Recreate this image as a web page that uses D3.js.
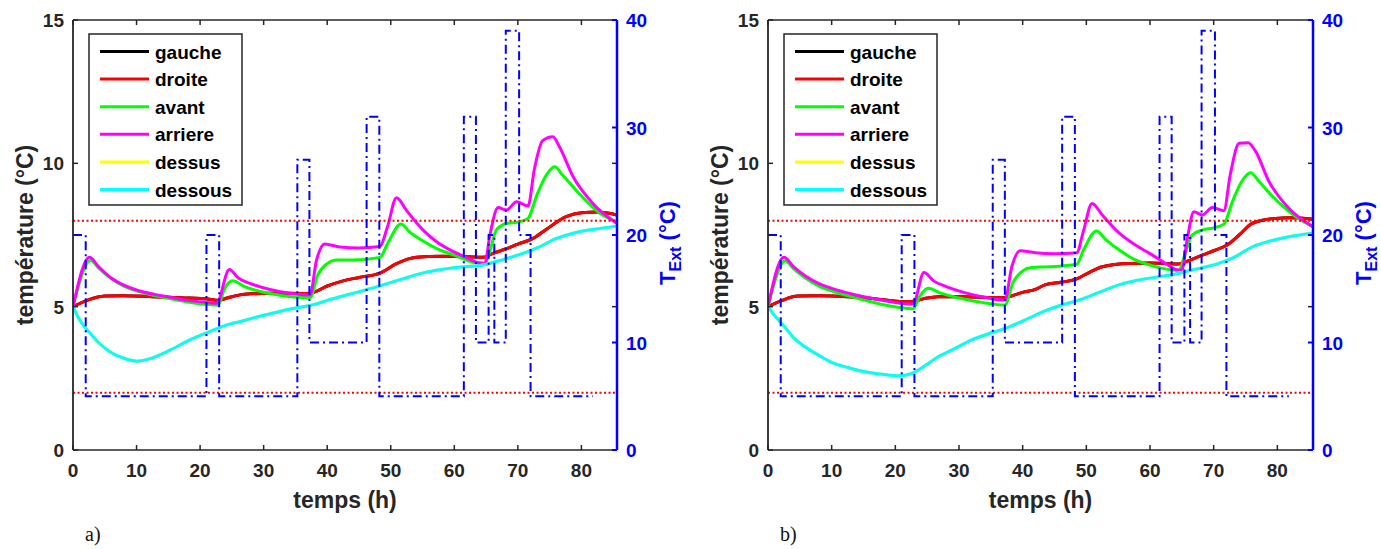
<!DOCTYPE html>
<html><head><meta charset="utf-8">
<script src="https://cdn.jsdelivr.net/npm/d3@7"></script>
<style>body{margin:0;background:#fff} svg{display:block}</style>
</head><body>
<svg id="chart" width="1381" height="549"></svg>
<script>
// ---------------- DATA ----------------
const timeTicks = [0, 10, 20, 30, 40, 50, 60, 70, 80];
const tempTicks = [0, 5, 10, 15];
const extTicks = [0, 10, 20, 30, 40];
const seriesNames = ["gauche", "droite", "avant", "arriere", "dessus", "dessous"];
const seriesColors = ["#000000", "#ff0000", "#00ff00", "#ff00ff", "#ffff00", "#00ffff"];
const limitTemps = [2, 8];
const panelLabels = ["a)", "b)"];

// outside temperature (right axis), step profile
const extStepStart = [0, 2, 21, 23, 35.3, 37.2, 46.2, 48.2, 61.5, 63.4, 65.4, 66.3, 68.1, 70.2, 72, 81.8];
const extStepValue = [20, 5, 20, 5, 27, 10, 31, 5, 31, 10, 20, 10, 39, 20, 5, 5];

// panel a)
const aDroiteHours = [0, 2, 5, 8, 12.5, 17, 21.5, 22.8, 24.5, 27, 31, 36, 37.5, 40, 42.5, 45, 48.3, 50.9, 54, 58, 62, 64.5, 66, 68.2, 70, 72.4, 74.5, 77.6, 80, 82.5, 85.6];
const aDroiteTemp  = [5.0, 5.2, 5.37, 5.38, 5.35, 5.31, 5.26, 5.22, 5.32, 5.43, 5.47, 5.46, 5.48, 5.72, 5.9, 6.02, 6.17, 6.5, 6.72, 6.76, 6.74, 6.72, 6.85, 7.02, 7.18, 7.38, 7.7, 8.14, 8.28, 8.3, 8.2];
const aAvantHours = [0, 2.8, 4, 6, 8, 10, 13, 16, 19, 21, 22.8, 23.8, 25.1, 27, 30, 33, 37.3, 38.5, 40, 41.5, 44, 48.3, 49.5, 51.6, 53, 55, 57.7, 60, 63.5, 64.8, 65.8, 66.6, 68.2, 70, 71.6, 73, 74.5, 75.8, 77, 79, 82.9, 85.6];
const aAvantTemp  = [5.0, 6.62, 6.35, 5.98, 5.72, 5.55, 5.38, 5.25, 5.13, 5.08, 5.05, 5.6, 5.9, 5.7, 5.5, 5.38, 5.31, 6.1, 6.5, 6.63, 6.63, 6.72, 7.2, 7.88, 7.6, 7.3, 6.98, 6.8, 6.53, 6.52, 7.1, 7.67, 7.9, 7.95, 8.08, 8.9, 9.6, 9.88, 9.6, 9.1, 8.26, 7.96];
const aArriereHours = [0, 2.6, 4, 6, 8, 10, 13, 15.3, 18, 21, 22.6, 24.6, 26, 28, 31, 34, 37.3, 38.3, 39.6, 42, 45, 48.3, 49.5, 50.9, 52.5, 55.1, 57, 59.3, 61.5, 63.5, 64.8, 65.6, 66.9, 68.2, 69.8, 71.6, 72.6, 73.9, 75.5, 76.5, 78.7, 81.8, 85.6];
const aArriereTemp  = [5.0, 6.72, 6.4, 6.0, 5.75, 5.58, 5.42, 5.33, 5.22, 5.15, 5.12, 6.3, 6.0, 5.8, 5.6, 5.47, 5.41, 6.6, 7.19, 7.08, 7.05, 7.1, 7.8, 8.8, 8.35, 7.67, 7.3, 6.98, 6.75, 6.55, 6.5, 7.5, 8.46, 8.37, 8.66, 8.51, 9.8, 10.79, 10.93, 10.6, 9.53, 8.6, 7.9];
const aDessousHours = [0, 1, 2.7, 4, 5.8, 8, 10, 12, 15.3, 18, 21.5, 24, 26.8, 30, 33, 36.2, 38, 40, 43.6, 46, 48.8, 52, 55.1, 58, 61, 64.5, 67, 70.8, 73, 76.1, 79, 82, 85.6];
const aDessousTemp  = [5.0, 4.55, 4.07, 3.75, 3.43, 3.2, 3.1, 3.18, 3.49, 3.8, 4.13, 4.35, 4.51, 4.7, 4.86, 5.0, 5.08, 5.22, 5.44, 5.58, 5.76, 5.98, 6.18, 6.3, 6.38, 6.45, 6.6, 6.86, 7.05, 7.38, 7.58, 7.7, 7.81];

// panel b)
const bDroiteHours = [0, 2, 4.7, 8, 12.5, 17, 22, 23, 24.5, 26.7, 31, 36.2, 37.5, 40, 42, 43.5, 46, 48.3, 50.5, 52.5, 56.7, 60, 64.5, 66, 68.2, 70, 72.1, 74, 76.1, 79.7, 82, 85.6];
const bDroiteTemp  = [5.0, 5.2, 5.37, 5.38, 5.35, 5.27, 5.17, 5.2, 5.28, 5.35, 5.35, 5.31, 5.33, 5.5, 5.6, 5.76, 5.85, 5.95, 6.2, 6.39, 6.51, 6.52, 6.49, 6.6, 6.8, 6.95, 7.15, 7.5, 7.91, 8.08, 8.1, 8.05];
const bAvantHours = [0, 2.7, 4, 6, 8, 10, 13, 16, 19, 22, 22.8, 23.8, 25.2, 27, 30, 33, 37.2, 38.5, 40, 41.4, 44, 48.5, 49.5, 51.6, 53, 55, 57.7, 60, 63.5, 64.5, 65.6, 66.6, 68.2, 70, 71.6, 73, 74.5, 75.8, 77, 79, 82.9, 85.6];
const bAvantTemp  = [5.0, 6.6, 6.33, 5.98, 5.72, 5.55, 5.35, 5.18, 5.03, 4.94, 4.93, 5.35, 5.64, 5.48, 5.3, 5.17, 5.06, 5.85, 6.25, 6.37, 6.39, 6.48, 6.95, 7.64, 7.35, 7.0, 6.63, 6.45, 6.28, 6.27, 6.9, 7.5, 7.67, 7.75, 7.88, 8.7, 9.4, 9.67, 9.4, 8.9, 8.14, 7.79];
const bArriereHours = [0, 2.5, 4, 6, 8, 10, 13, 16, 19, 22, 22.8, 24.5, 26, 28, 31, 34, 37.2, 38.3, 39.6, 42, 45, 48.5, 49.5, 50.9, 52.5, 55, 57.7, 60, 62.5, 64, 65, 65.8, 66.9, 68.2, 69.8, 71.6, 72.6, 74, 75.4, 76.5, 78.7, 81.8, 85.6];
const bArriereTemp  = [5.0, 6.72, 6.4, 6.05, 5.8, 5.64, 5.45, 5.3, 5.18, 5.09, 5.1, 6.19, 5.9, 5.7, 5.48, 5.33, 5.23, 6.4, 6.95, 6.88, 6.85, 6.88, 7.6, 8.6, 8.2, 7.6, 7.15, 6.85, 6.5, 6.3, 6.28, 7.3, 8.31, 8.2, 8.46, 8.35, 9.6, 10.7, 10.72, 10.45, 9.36, 8.43, 7.79];
const bDessousHours = [0, 1, 2.6, 4, 5.8, 8, 10, 12.5, 15.2, 18, 20.5, 22.6, 24.5, 26.8, 29, 32, 35, 37.2, 40, 43.5, 46, 48.8, 52, 55.1, 58, 61, 64, 67, 70.8, 73, 76.1, 79, 82, 85.6];
const bDessousTemp  = [5.0, 4.7, 4.3, 3.92, 3.6, 3.3, 3.06, 2.88, 2.73, 2.64, 2.59, 2.67, 2.92, 3.26, 3.5, 3.84, 4.08, 4.24, 4.5, 4.85, 5.05, 5.23, 5.5, 5.76, 5.92, 6.03, 6.14, 6.3, 6.51, 6.7, 7.09, 7.3, 7.45, 7.56];

// ---------------- DRAW ----------------
const zip = (xs, ys) => xs.map((x, i) => [x, ys[i]]);
const panels = [
  { left: 73, right: 617, label: panelLabels[0],
    series: [zip(aDroiteHours, aDroiteTemp), zip(aDroiteHours, aDroiteTemp), zip(aAvantHours, aAvantTemp),
             zip(aArriereHours, aArriereTemp), zip(aDessousHours, aDessousTemp), zip(aDessousHours, aDessousTemp)] },
  { left: 768, right: 1313, label: panelLabels[1],
    series: [zip(bDroiteHours, bDroiteTemp), zip(bDroiteHours, bDroiteTemp), zip(bAvantHours, bAvantTemp),
             zip(bArriereHours, bArriereTemp), zip(bDessousHours, bDessousTemp), zip(bDessousHours, bDessousTemp)] }
];
const plotTop = 20, plotBottom = 450;
const axisColor = "#262626", blue = "#0000ff";
const font = "'Liberation Sans', Arial, Helvetica, sans-serif";
const svg = d3.select("#chart");

panels.forEach((p, pi) => {
  const x = d3.scaleLinear().domain([0, 85.6]).range([p.left, p.right]);
  const y = d3.scaleLinear().domain([0, 15]).range([plotBottom, plotTop]);
  const y2 = d3.scaleLinear().domain([0, 40]).range([plotBottom, plotTop]);
  const g = svg.append("g");
  const clipId = "clip" + pi;
  g.append("clipPath").attr("id", clipId).append("rect")
    .attr("x", p.left).attr("y", plotTop).attr("width", p.right - p.left).attr("height", plotBottom - plotTop);
  const plot = g.append("g").attr("clip-path", `url(#${clipId})`);

  const line = d3.line().x(d => x(d[0])).y(d => y(d[1])).curve(d3.curveMonotoneX);
  p.series.forEach((s, i) => {
    plot.append("path").datum(s).attr("d", line)
      .attr("fill", "none").attr("stroke", seriesColors[i]).attr("stroke-width", 3)
      .attr("stroke-linejoin", "round");
  });
  limitTemps.forEach(v => {
    plot.append("line").attr("x1", p.left).attr("x2", p.right).attr("y1", y(v)).attr("y2", y(v))
      .attr("stroke", "#ff0000").attr("stroke-width", 2).attr("stroke-dasharray", "2,2.5");
  });
  const extPts = zip(extStepStart, extStepValue);
  const stepLine = d3.line().x(d => x(d[0])).y(d => y2(d[1])).curve(d3.curveStepAfter);
  plot.append("path").datum(extPts).attr("d", stepLine)
    .attr("fill", "none").attr("stroke", blue).attr("stroke-width", 2)
    .attr("stroke-dasharray", "9,4,2,4");

  // axes
  const tk = 5;
  const ax = g.append("g");
  ax.append("line").attr("x1", p.left).attr("x2", p.right).attr("y1", plotTop).attr("y2", plotTop).attr("stroke", axisColor).attr("stroke-width", 1.5);
  ax.append("line").attr("x1", p.left).attr("x2", p.right).attr("y1", plotBottom).attr("y2", plotBottom).attr("stroke", axisColor).attr("stroke-width", 1.5);
  ax.append("line").attr("x1", p.left).attr("x2", p.left).attr("y1", plotTop).attr("y2", plotBottom).attr("stroke", axisColor).attr("stroke-width", 1.8);
  timeTicks.forEach(t => {
    ax.append("line").attr("x1", x(t)).attr("x2", x(t)).attr("y1", plotBottom).attr("y2", plotBottom - tk).attr("stroke", axisColor).attr("stroke-width", 1.5);
    ax.append("line").attr("x1", x(t)).attr("x2", x(t)).attr("y1", plotTop).attr("y2", plotTop + tk).attr("stroke", axisColor).attr("stroke-width", 1.5);
    ax.append("text").attr("x", x(t)).attr("y", 477).attr("text-anchor", "middle")
      .attr("font-family", font).attr("font-weight", "bold").attr("font-size", 19).attr("fill", axisColor).text(t);
  });
  tempTicks.forEach(v => {
    ax.append("line").attr("x1", p.left).attr("x2", p.left + tk).attr("y1", y(v)).attr("y2", y(v)).attr("stroke", axisColor).attr("stroke-width", 1.5);
    ax.append("line").attr("x1", p.right).attr("x2", p.right - tk).attr("y1", y(v)).attr("y2", y(v)).attr("stroke", axisColor).attr("stroke-width", 1.5);
    ax.append("text").attr("x", p.left - 9).attr("y", y(v) + 7).attr("text-anchor", "end")
      .attr("font-family", font).attr("font-weight", "bold").attr("font-size", 19).attr("fill", axisColor).text(v);
  });
  ax.append("line").attr("x1", p.right).attr("x2", p.right).attr("y1", plotTop).attr("y2", plotBottom).attr("stroke", blue).attr("stroke-width", 2.5);
  extTicks.forEach(v => {
    ax.append("line").attr("x1", p.right).attr("x2", p.right - tk).attr("y1", y2(v)).attr("y2", y2(v)).attr("stroke", blue).attr("stroke-width", 2);
    ax.append("text").attr("x", p.right + 9).attr("y", y2(v) + 7).attr("text-anchor", "start")
      .attr("font-family", font).attr("font-weight", "bold").attr("font-size", 19).attr("fill", blue).text(v);
  });

  // axis labels
  const cx = (p.left + p.right) / 2, cy = (plotTop + plotBottom) / 2;
  g.append("text").attr("x", cx).attr("y", 508).attr("text-anchor", "middle")
    .attr("font-family", font).attr("font-weight", "bold").attr("font-size", 23).attr("fill", axisColor).text("temps (h)");
  g.append("text").attr("transform", `translate(${p.left - 40},${cy}) rotate(-90)`).attr("text-anchor", "middle")
    .attr("font-family", font).attr("font-weight", "bold").attr("font-size", 23).attr("fill", axisColor).text("température (°C)");
  const ext = g.append("text").attr("transform", `translate(${p.right + 58},${cy + 8}) rotate(-90)`).attr("text-anchor", "middle")
    .attr("font-family", font).attr("font-weight", "bold").attr("font-size", 22).attr("fill", blue);
  ext.append("tspan").text("T");
  ext.append("tspan").attr("font-size", 16).attr("dy", 6).text("Ext");
  ext.append("tspan").attr("dy", -6).text(" (°C)");

  // legend
  const lx = p.left + 16, ly = 34, lw = 153, lh = 171;
  const leg = g.append("g");
  leg.append("rect").attr("x", lx).attr("y", ly).attr("width", lw).attr("height", lh)
    .attr("fill", "#fff").attr("stroke", axisColor).attr("stroke-width", 1.5);
  seriesNames.forEach((n, i) => {
    const yy = ly + 17.5 + i * 27.6;
    leg.append("line").attr("x1", lx + 11).attr("x2", lx + 60).attr("y1", yy).attr("y2", yy)
      .attr("stroke", seriesColors[i]).attr("stroke-width", 3);
    leg.append("text").attr("x", lx + 66).attr("y", yy + 7)
      .attr("font-family", font).attr("font-weight", "bold").attr("font-size", 19).attr("fill", "#000").text(n);
  });

  // panel label
  g.append("text").attr("x", p.left + 12).attr("y", 541)
    .attr("font-family", "'Liberation Serif', 'Times New Roman', serif").attr("font-size", 20).attr("fill", "#111").text(p.label);
});
</script>
</body></html>
